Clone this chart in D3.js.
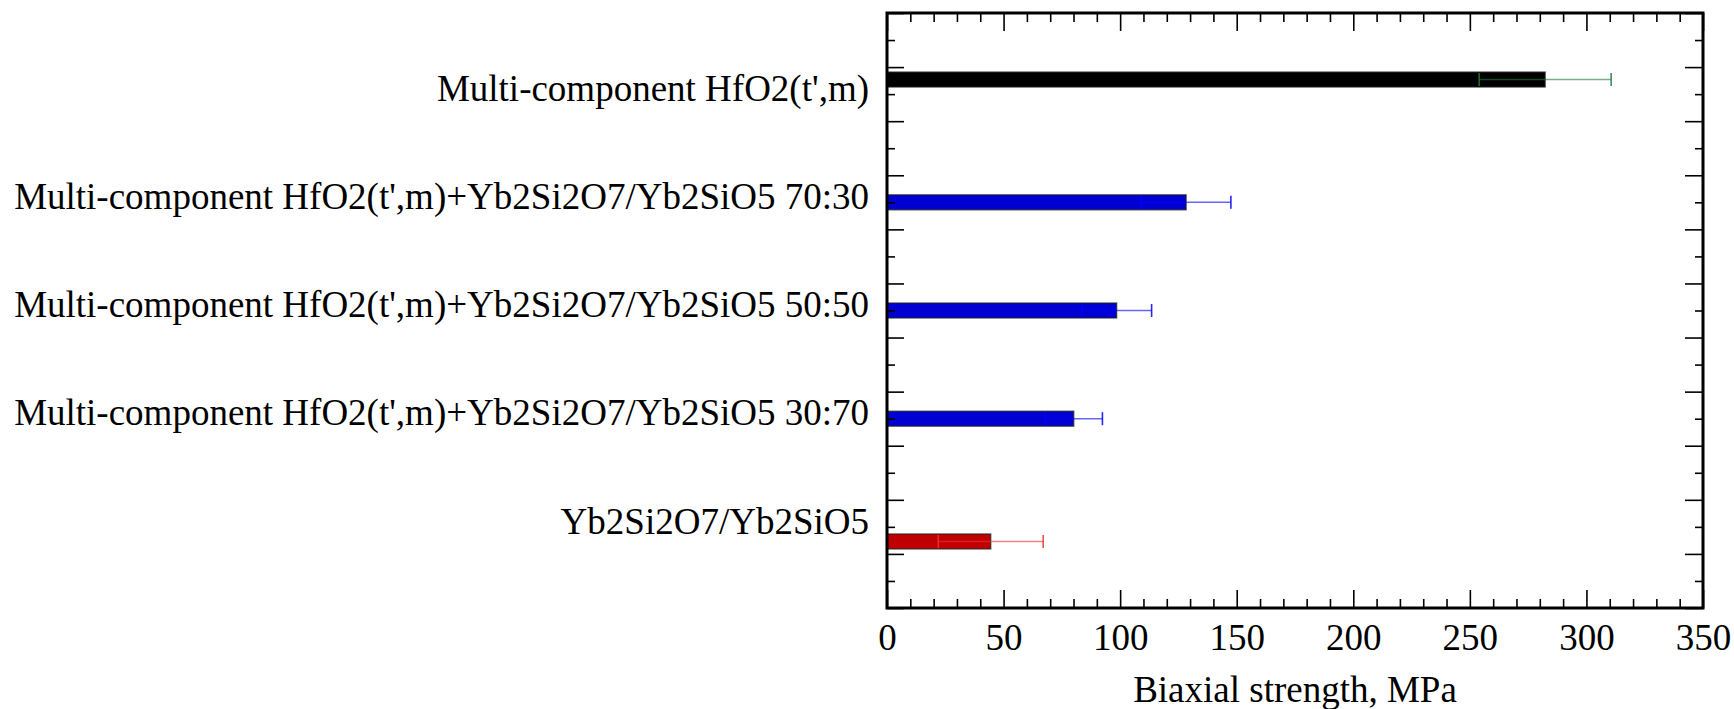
<!DOCTYPE html>
<html>
<head>
<meta charset="utf-8">
<script src="https://cdn.jsdelivr.net/npm/d3@7"></script>
<style>
  html, body { margin: 0; padding: 0; background: #fff; }
  svg { display: block; }
  text { font-family: "Liberation Serif", "Times New Roman", serif; fill: #000; }
</style>
</head>
<body>
<svg id="chart" width="1734" height="709"></svg>
<script>
// Samples, top to bottom
const categories = [
  "Multi-component HfO2(t',m)",
  "Multi-component HfO2(t',m)+Yb2Si2O7/Yb2SiO5 70:30",
  "Multi-component HfO2(t',m)+Yb2Si2O7/Yb2SiO5 50:50",
  "Multi-component HfO2(t',m)+Yb2Si2O7/Yb2SiO5 30:70",
  "Yb2Si2O7/Yb2SiO5"
];
// Biaxial strength (MPa) and its spread
const strength = [282.3, 128.3, 98.5, 80.1, 44.5];
const spread = [28.3, 19.2, 15.0, 12.3, 22.5];
// Vertical slots on the (unlabelled) category axis
const barSlot = [9.77, 7.5, 5.5, 3.5, 1.23];
const labelSlot = [9.5, 7.5, 5.5, 3.5, 1.5];
const barColors = ["#000000", "#0000d2", "#0000d2", "#0000d2", "#c00000"];
const errColors = ["#1e7a3c", "#0000ff", "#0000ff", "#0000ff", "#ee3030"];
// Axis ticks
const xMajor = [0, 50, 100, 150, 200, 250, 300, 350];
const xMinor = d3.range(0, 351, 10).filter(v => v % 50 !== 0);
const yMajor = d3.range(0, 12, 1);
const yMinor = d3.range(0.5, 11, 1);

const svg = d3.select("#chart");
const plotL = 887, plotR = 1703, plotT = 13, plotB = 608;
const fontSize = 37;
const serif = '"Liberation Serif", "Times New Roman", serif';

const x = d3.scaleLinear().domain([0, 350]).range([plotL, plotR]);
const y = d3.scaleLinear().domain([0, 11]).range([plotB, plotT]);
const barThick = 0.277;

// Bars
const g = svg.append("g");
g.selectAll("rect.bar")
  .data(strength)
  .join("rect")
  .attr("class", "bar")
  .attr("x", x(0))
  .attr("y", (d, i) => y(barSlot[i] + barThick / 2))
  .attr("width", d => x(d) - x(0))
  .attr("height", y(0) - y(barThick))
  .attr("fill", (d, i) => barColors[i])
  .attr("stroke", "#222")
  .attr("stroke-opacity", 0.75)
  .attr("stroke-width", 1.3);

// Error bars
const capHalf = 6.5;
const err = g.selectAll("g.err")
  .data(strength)
  .join("g")
  .attr("class", "err");
err.append("line")
  .attr("x1", (d, i) => x(d - spread[i]))
  .attr("x2", (d, i) => x(d + spread[i]))
  .attr("y1", (d, i) => y(barSlot[i]))
  .attr("y2", (d, i) => y(barSlot[i]))
  .attr("stroke", (d, i) => errColors[i])
  .attr("stroke-opacity", 0.6)
  .attr("stroke-width", 1.6);
[-1, 1].forEach(s => {
  err.append("line")
    .attr("x1", (d, i) => x(d + s * spread[i]))
    .attr("x2", (d, i) => x(d + s * spread[i]))
    .attr("y1", (d, i) => y(barSlot[i]) - capHalf)
    .attr("y2", (d, i) => y(barSlot[i]) + capHalf)
    .attr("stroke", (d, i) => errColors[i])
    .attr("stroke-opacity", 0.85)
    .attr("stroke-width", 1.6);
});

// Inward ticks on all four sides
function ticks(axisFn, scale, values, size, transform) {
  const a = svg.append("g")
    .attr("transform", transform)
    .call(axisFn(scale).tickValues(values).tickSize(-size).tickFormat(""));
  a.select(".domain").remove();
  a.selectAll("line").attr("stroke", "#000").attr("stroke-width", 1.6);
  return a;
}
ticks(d3.axisBottom, x, xMajor, 18, `translate(0,${plotB})`);
ticks(d3.axisBottom, x, xMinor, 9, `translate(0,${plotB})`);
ticks(d3.axisTop, x, xMajor, 18, `translate(0,${plotT})`);
ticks(d3.axisTop, x, xMinor, 9, `translate(0,${plotT})`);
ticks(d3.axisLeft, y, yMajor, 17, `translate(${plotL},0)`);
ticks(d3.axisLeft, y, yMinor, 8, `translate(${plotL},0)`);
ticks(d3.axisRight, y, yMajor, 18, `translate(${plotR},0)`);
ticks(d3.axisRight, y, yMinor, 8, `translate(${plotR},0)`);

// X tick labels
const xl = svg.append("g")
  .attr("transform", `translate(0,${plotB})`)
  .call(d3.axisBottom(x).tickValues(xMajor).tickSize(0).tickPadding(16).tickFormat(d3.format("d")));
xl.select(".domain").remove();
xl.selectAll("text")
  .style("font-family", serif)
  .style("font-size", fontSize + "px");

// Frame
svg.append("rect")
  .attr("x", plotL).attr("y", plotT)
  .attr("width", plotR - plotL).attr("height", plotB - plotT)
  .attr("fill", "none").attr("stroke", "#000").attr("stroke-width", 3);

// Category labels
svg.selectAll("text.cat")
  .data(categories)
  .join("text")
  .attr("class", "cat")
  .attr("x", 869)
  .attr("y", (d, i) => y(labelSlot[i]))
  .attr("dy", "0.18em")
  .attr("text-anchor", "end")
  .style("font-family", serif)
  .style("font-size", fontSize + "px")
  .text(d => d);

// Axis title
svg.append("text")
  .attr("x", (plotL + plotR) / 2)
  .attr("y", 702)
  .attr("text-anchor", "middle")
  .style("font-family", serif)
  .style("font-size", fontSize + "px")
  .text("Biaxial strength, MPa");
</script>
</body>
</html>
